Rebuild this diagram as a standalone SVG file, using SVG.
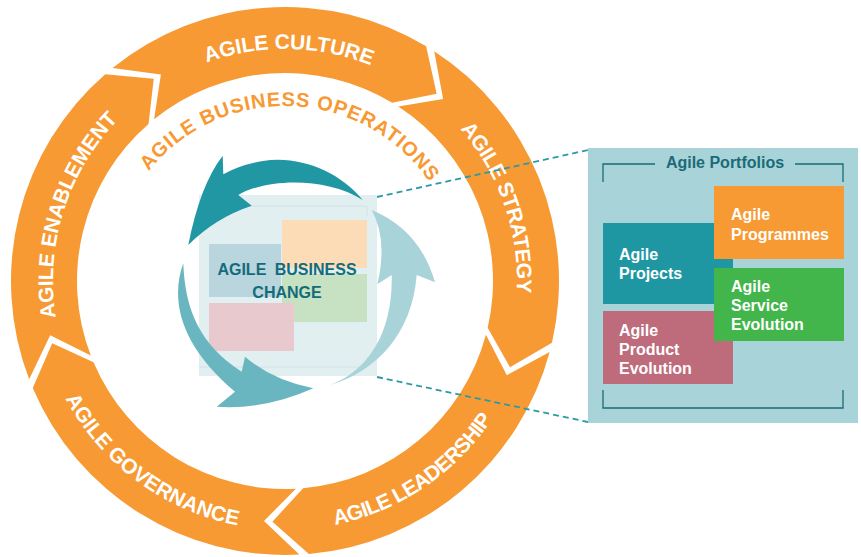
<svg xmlns="http://www.w3.org/2000/svg" width="861" height="557" viewBox="0 0 861 557">
<style>
.seg{fill:#F79A34}
.rt{font-family:"Liberation Sans",Arial,sans-serif;font-weight:700;font-size:21px;fill:#ffffff}
.ot{font-family:"Liberation Sans",Arial,sans-serif;font-weight:700;font-size:20px;fill:#F79A34}
.ct{font-family:"Liberation Sans",Arial,sans-serif;font-weight:700;font-size:16px;fill:#136C7A;text-anchor:middle}
.bt{font-family:"Liberation Sans",Arial,sans-serif;font-weight:700;font-size:16px;fill:#ffffff}
.conn{stroke:#2A9AA8;stroke-width:1.8;stroke-dasharray:6 4;fill:none}
.br{stroke:#1B6B76;stroke-width:1.3;fill:none}
</style>
<defs>
<path id="pCulture" d="M139.0,100.71 A232,232 0 0 1 437.22,105.91"/>
<path id="pStrategy" d="M404.48,82.13 A232,232 0 0 1 501.60,364.15"/>
<path id="pEnable" d="M70.66,369.79 A232,232 0 0 1 160.35,85.33"/>
<path id="pLead" d="M258.98,528.63 A249,249 0 0 0 524.36,349.62"/>
<path id="pGov" d="M42.97,339.54 A249,249 0 0 0 300.64,529.50"/>
<path id="pOps" d="M136.91,187.74 A175,175 0 0 1 439.81,199.38"/>
</defs>
<rect width="861" height="557" fill="#ffffff"/>

<g id="ring">
<g id="culture">
<path class="seg" d="M112.57,68.07 A274,274 0 0 1 426.11,46.13 L436.66,93.72 L392.12,102.70 A208,208 0 0 0 154.11,119.36 L160.88,74.41 Z"/>
<text class="rt"><textPath href="#pCulture" startOffset="50%" text-anchor="middle" textLength="168">AGILE CULTURE</textPath></text>
</g>
<g id="strategy">
<path class="seg" d="M434.22,51.20 A274,274 0 0 1 551.99,342.65 L510.00,367.37 L487.68,327.80 A208,208 0 0 0 398.28,106.55 L443.12,99.12 Z"/>
<text class="rt"><textPath href="#pStrategy" startOffset="50%" text-anchor="middle" textLength="178">AGILE STRATEGY</textPath></text>
</g>
<g id="leadership">
<path class="seg" d="M549.66,351.91 A274,274 0 0 1 308.89,553.96 L272.40,521.66 L303.14,488.21 A208,208 0 0 0 485.91,334.83 L506.84,375.16 Z"/>
<text class="rt"><textPath href="#pLead" startOffset="50%" text-anchor="middle" textLength="195">AGILE LEADERSHIP</textPath></text>
</g>
<g id="governance">
<path class="seg" d="M299.33,554.62 A274,274 0 0 1 32.78,388.05 L52.22,343.37 L93.54,362.27 A208,208 0 0 0 295.88,488.71 L263.98,521.08 Z"/>
<text class="rt"><textPath href="#pGov" startOffset="50%" text-anchor="middle" textLength="221">AGILE GOVERNANCE</textPath></text>
</g>
<g id="enablement">
<path class="seg" d="M29.19,379.20 A274,274 0 0 1 105.23,74.21 L153.75,78.87 L148.53,124.02 A208,208 0 0 0 90.81,355.55 L50.17,335.23 Z"/>
<text class="rt"><textPath href="#pEnable" startOffset="50%" text-anchor="middle" textLength="215">AGILE ENABLEMENT</textPath></text>
</g>
</g>

<g id="operations">
<text class="ot"><textPath href="#pOps" startOffset="50%" text-anchor="middle" textLength="326">AGILE BUSINESS OPERATIONS</textPath></text>
</g>

<g id="connectors">
<line class="conn" x1="377" y1="197" x2="588" y2="150"/>
<line class="conn" x1="377" y1="377" x2="588" y2="422"/>
</g>

<g id="change">
<rect x="199" y="195" width="178" height="181" fill="#E1EFF1"/>
<path d="M199,206 H367 V216 M367,357 V367 H199" stroke="#D2E3E6" stroke-width="1" fill="none"/>
<rect x="209" y="244" width="72" height="53" fill="#B9D5DD"/>
<rect x="282" y="220" width="85" height="48" fill="#FCDCB6"/>
<rect x="282" y="274" width="85" height="48" fill="#C6E2C2"/>
<rect x="209" y="303" width="85" height="48" fill="#E8CACE"/>
<text class="ct" x="287" y="275" word-spacing="4">AGILE BUSINESS</text>
<text class="ct" x="287" y="298">CHANGE</text>
</g>

<g id="cycle">
<path id="arrowDark" fill="#2197A4" d="M362.7,200 C340,172 300,155 263,161 Q240,165 223.3,174.3 L222.7,155.7 Q200,185 188.3,245 Q215,218 251.7,205.7 L238.3,195 C265,179 325,176 362.7,200 Z"/>
<path id="arrowMid" fill="#69B6C1" d="M183.3,263.3 C170,300 180,345 235,391.7 L216.7,406.7 Q265,410 313.3,388.3 Q272,380 245,356.7 L241.7,371.7 C200,345 185,310 183.3,263.3 Z"/>
<path id="arrowLight" fill="#A8D3D9" d="M330,385 C375,372 412,335 416.7,275 L435,282.3 Q420,230 371.7,210 Q388,240 377.3,284.3 L391.7,275 C393,330 370,370 330,385 Z"/>
</g>

<g id="portfolios">
<rect x="588" y="148" width="270" height="275" fill="#A8D3D9"/>
<path class="br" d="M603,182 V164 H655 M795,164 H843 V182 M603,390 V408 H843 V390"/>
<text x="725" y="168" font-family="Liberation Sans, Arial, sans-serif" font-weight="700" font-size="16" fill="#1B6B76" text-anchor="middle">Agile Portfolios</text>
</g>
<g id="projects">
<rect x="603" y="223" width="130" height="81" fill="#1F97A3"/>
<text class="bt" x="619" y="260">Agile</text>
<text class="bt" x="619" y="279">Projects</text>
</g>
<g id="product">
<rect x="603" y="311" width="130" height="73" fill="#BE6B7C"/>
<text class="bt" x="619" y="336">Agile</text>
<text class="bt" x="619" y="355">Product</text>
<text class="bt" x="619" y="374">Evolution</text>
</g>
<g id="programmes">
<rect x="714" y="186" width="130" height="73" fill="#F79A34"/>
<text class="bt" x="731" y="220">Agile</text>
<text class="bt" x="731" y="240">Programmes</text>
</g>
<g id="service">
<rect x="714" y="268" width="130" height="73" fill="#42B54B"/>
<text class="bt" x="731" y="292">Agile</text>
<text class="bt" x="731" y="311">Service</text>
<text class="bt" x="731" y="330">Evolution</text>
</g>
</svg>
